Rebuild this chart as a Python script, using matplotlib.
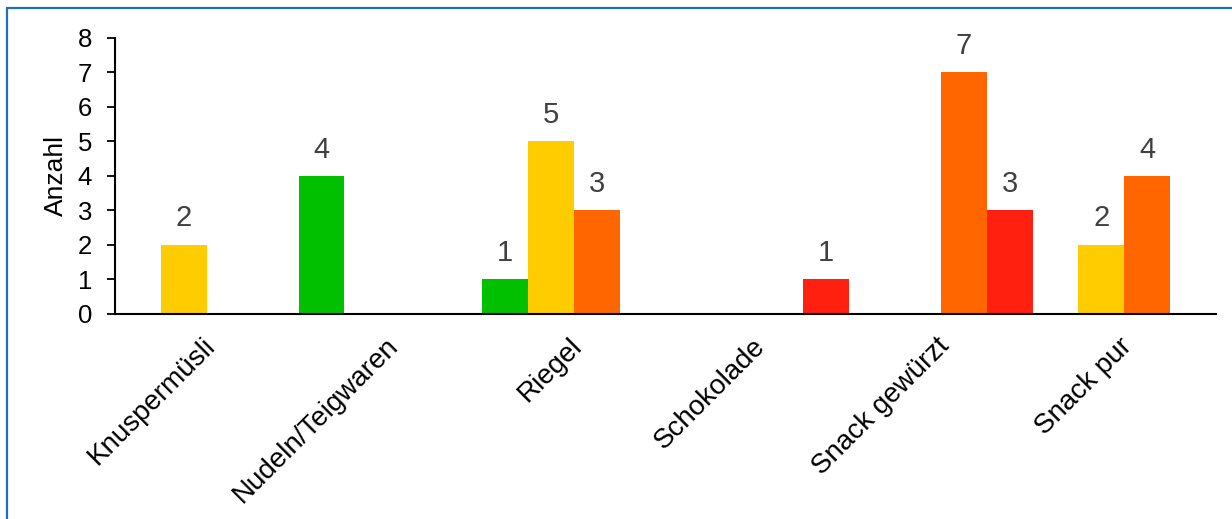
import numpy as np
import matplotlib.pyplot as plt
from matplotlib.patches import Rectangle
from matplotlib.transforms import ScaledTranslation

# chart data
categories = ['Knuspermüsli', 'Nudeln/Teigwaren', 'Riegel', 'Schokolade',
              'Snack gewürzt', 'Snack pur']
series_names = ['gruen', 'gelb', 'orange', 'rot']
gruen = [0, 4, 1, 0, 0, 0]
gelb = [2, 0, 5, 0, 0, 2]
orange = [0, 0, 3, 0, 7, 4]
rot = [0, 0, 0, 1, 3, 0]
y_ticks = [0, 1, 2, 3, 4, 5, 6, 7, 8]
y_label = 'Anzahl'

colors = ['#00c000', '#ffcc00', '#ff6600', '#ff2010']


def make_chart():
    plt.rcParams['font.family'] = ['Liberation Sans', 'DejaVu Sans']

    fig = plt.figure(figsize=(12.32, 5.19), dpi=100)
    ax = fig.add_axes([115 / 1232, 1 - 313.5 / 519, 1101 / 1232, 275.8 / 519])

    # blue frame around the whole chart (cut off at right and bottom)
    fig.patches.append(Rectangle((6.5 / 1232, -0.05), 1.1, 1 - 8 / 519 + 0.05,
                                 transform=fig.transFigure, fill=False,
                                 edgecolor='#1f6fc0', linewidth=1.6))

    x = np.arange(len(categories))
    width = 0.25
    all_series = [gruen, gelb, orange, rot]
    for i, values in enumerate(all_series):
        offset = (i - 1.5) * width
        bars = ax.bar(x + offset, values, width, color=colors[i],
                      label=series_names[i], linewidth=0)
        for bar, v in zip(bars, values):
            if v == 0:
                continue
            ax.annotate(str(v), (bar.get_x() + bar.get_width() / 2, v),
                        xytext=(0, 13), textcoords='offset points',
                        ha='center', va='baseline', fontsize=21,
                        color='#404040')

    ax.set_xlim(-0.5, len(categories) - 0.5)
    ax.set_ylim(0, 8)
    ax.set_yticks(y_ticks)
    ax.tick_params(axis='y', labelsize=18.5, length=5.5, width=1.3, pad=11)
    ax.set_ylabel(y_label, fontsize=19, labelpad=7)

    ax.set_xticks(x)
    ax.set_xticklabels(categories, rotation=45, ha='right', va='top',
                       rotation_mode='anchor', fontsize=20)
    ax.tick_params(axis='x', length=0, pad=14)
    # nudge the rotated labels a little to the left
    shift = ScaledTranslation(-5 / 100, 0, fig.dpi_scale_trans)
    for lbl in ax.get_xticklabels():
        lbl.set_transform(lbl.get_transform() + shift)

    for side in ['top', 'right']:
        ax.spines[side].set_visible(False)
    for side in ['left', 'bottom']:
        ax.spines[side].set_linewidth(1.5)

    fig.savefig('out.png', dpi=100)


if __name__ == "__main__":
    make_chart()
